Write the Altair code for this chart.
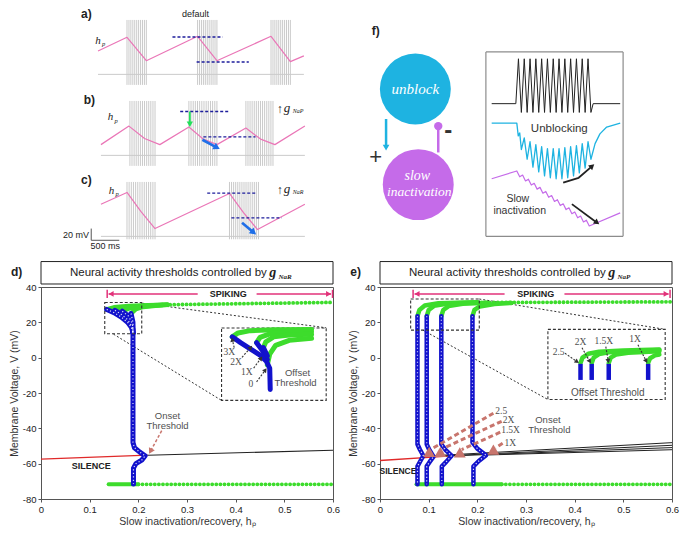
import math
import altair as alt
import pandas as pd

SANS = "Liberation Sans"
SERIF = "Liberation Serif"

PINK = "#ea76b7"
SPIKE = "#cacaca"
DASHBLUE = "#1e1e9c"
ARROWBLUE = "#1f6fe8"
LIME = "#22e05a"
GREEN = "#3ddc2c"
BLUE = "#1212cc"
RED = "#e02a2a"
MAGENTA = "#e2327a"
BROWN = "#c8756d"
CYAN = "#1eb3e1"
PURPLE = "#c56be9"
INK = "#222222"
FRAME = "#555555"
GREY = "#505050"

# ======================= DATA =======================
# ---- traces a-c : time (s), voltage (mV), h_p
V_REST = -60.0
V_PEAK = 33.0
V_TROUGH = -78.0
V_TROUGH_C = -65.0

a_spikes = [0.517, 0.552, 0.586, 0.621, 0.655, 0.690, 0.724, 0.759, 0.793, 0.828, 0.862,
            1.776, 1.811, 1.845, 1.880, 1.914, 1.949, 1.983, 2.018, 2.052, 2.087, 2.121,
            3.086, 3.121, 3.155, 3.190, 3.224, 3.259, 3.293, 3.328, 3.362, 3.397, 3.431]
a_span = [0.0, 3.672]
a_hp_t = [0.0, 0.517, 0.862, 1.776, 2.121, 3.086, 3.431, 3.672]
a_hp = [0.154, 0.196, 0.124, 0.199, 0.124, 0.199, 0.121, 0.139]
a_thr_t0 = [1.328, 1.759]
a_thr_t1 = [2.224, 2.690]
a_thr_hp = [0.197, 0.120]

b_spikes = [0.569, 0.606, 0.644, 0.681, 0.718, 0.756, 0.793, 0.830, 0.868, 0.905, 0.942, 0.980, 1.017,
            1.621, 1.659, 1.698, 1.736, 1.775, 1.813, 1.852, 1.890, 1.929, 1.967, 2.006, 2.044, 2.083, 2.121,
            2.638, 2.675, 2.712, 2.749, 2.787, 2.824, 2.861, 2.898, 2.935, 2.972, 3.010, 3.047, 3.084, 3.121]
b_span = [0.052, 3.690]
b_hp_t = [0.052, 0.552, 0.83, 1.103, 1.621, 1.87, 2.121, 2.638, 2.90, 3.155, 3.690]
b_hp = [0.115, 0.172, 0.134, 0.115, 0.169, 0.133, 0.115, 0.166, 0.132, 0.115, 0.172]
b_thr_t0 = [1.466, 1.879]
b_thr_t1 = [2.345, 2.810]
b_thr_hp = [0.217, 0.139]
b_green_arrow = [(1.638, 0.217), (1.638, 0.178)]
b_blue_arrow = [(1.862, 0.130), (2.121, 0.106)]

c_spikes = [0.517, 0.555, 0.594, 0.632, 0.671, 0.709, 0.748, 0.786, 0.825, 0.863, 0.902, 0.940, 0.979, 1.017,
            2.345, 2.382, 2.419, 2.456, 2.493, 2.530, 2.567, 2.604, 2.640, 2.677, 2.714, 2.751, 2.788, 2.825, 2.862]
c_span = [0.052, 3.690]
c_hp_t = [0.052, 0.517, 0.767, 1.017, 2.345, 2.595, 2.845, 3.690]
c_hp = [0.181, 0.217, 0.158, 0.106, 0.214, 0.155, 0.103, 0.181]
c_thr_t0 = [1.948, 2.379]
c_thr_t1 = [2.828, 3.276]
c_thr_hp = [0.215, 0.139]
c_blue_arrow = [(2.569, 0.124), (2.776, 0.094)]

# ---- f) schematic (diagram units)
f_circ_x = [414, 417]
f_circ_y = [86, 184]
f_inset_x = [487, 629]
f_inset_y = [48, 237]
f_black_x = [493, 518, 520.7, 523.7, 526.7, 529.7, 532.7, 535.7, 538.7, 541.7, 544.7, 547.7, 550.7,
             553.7, 556.7, 559.7, 562.7, 565.7, 568.7, 571.7, 574.7, 577.7, 580.7, 583.7, 586.7,
             589.7, 592.7, 595.7, 598, 626]
f_black_y = [101, 101, 55, 110, 55, 110, 55, 110, 55, 110, 55, 110, 55,
             110, 55, 110, 55, 110, 55, 110, 55, 110, 55, 110, 55,
             110, 55, 110, 101, 101]
f_cyan_x = [493, 519, 520.5, 522, 523.7, 526.7, 529.7, 532.7, 535.7, 538.7, 541.7, 544.7, 547.7,
            550.7, 553.7, 556.7, 559.7, 562.7, 565.7, 568.7, 571.7, 574.7, 577.7, 580.7, 583.7,
            586.7, 589.7, 592.7, 595.7, 600, 605, 612, 626]
f_cyan_y = [121, 121, 134, 131, 148, 136, 158, 140, 166, 143, 171, 145, 175,
            147, 177, 147, 178, 147, 178, 146, 177, 145, 175, 144, 172,
            142, 167, 140, 158, 142, 132, 125, 121]
f_purp_x = [493, 519, 522, 525, 528, 531, 534, 537, 540, 543, 546, 549, 552, 555, 558,
            561, 564, 567, 570, 573, 576, 579, 582, 585, 588, 591, 594, 626]
f_purp_y = [178, 170, 176, 174.2, 180.2, 178.4, 184.4, 182.6, 188.6, 186.8, 192.8, 191, 197, 195.2, 201.2,
            199.4, 205.4, 203.6, 209.6, 207.8, 213.8, 212, 218, 216.2, 222.2, 220.4, 226.4, 213]

# ---- d) g_NaR thresholds  (h_p, mV)
d_red = [(0.0, -57.4), (0.219, -55.2)]
d_black = [(0.219, -55.2), (0.6, -52.4)]
d_blue_main = [(0.189, 16), (0.189, -48), (0.192, -51), (0.203, -53.5), (0.214, -55.5),
               (0.207, -58), (0.195, -60), (0.190, -62.5), (0.190, -71.5)]
d_blue_tips = [
    [(0.135, 27.3), (0.15, 25.5), (0.165, 23), (0.178, 20), (0.186, 17), (0.189, 14)],
    [(0.152, 26.8), (0.165, 24.5), (0.178, 21.5), (0.187, 17.5), (0.189, 14)],
    [(0.167, 26.3), (0.18, 23.5), (0.188, 19), (0.189, 14)],
    [(0.185, 25), (0.189, 20), (0.189, 14)],
]
d_green_tips = [
    [(0.135, 27.3), (0.15, 28.5), (0.18, 29.2), (0.22, 29.7), (0.26, 30)],
    [(0.152, 26.8), (0.165, 28), (0.19, 29), (0.23, 29.7), (0.26, 30)],
    [(0.167, 26.3), (0.18, 27.8), (0.2, 28.8), (0.24, 29.7), (0.26, 30)],
    [(0.185, 25), (0.195, 27.5), (0.21, 28.7), (0.25, 29.8)],
]
d_green_band = [(0.24, 29.9), (0.6, 31.3)]
d_green_low_solid = [(0.139, -71.7), (0.2, -71.7)]
d_green_low_dots = [(0.2, -71.7), (0.6, -71.7)]
d_small_box = [0.131, 0.207, 13.5, 31.2]
d_big_box = [0.371, 0.586, -24.2, 16.8]
d_connect = [[(0.209, 30.8), (0.586, 16.9)], [(0.149, 13.3), (0.371, -24.2)]]
d_in_green = [
    [(0.393, 11.8), (0.405, 14), (0.43, 15.3), (0.48, 15.8), (0.556, 16)],
    [(0.443, 8.5), (0.45, 11.5), (0.47, 13.5), (0.51, 14.5), (0.556, 14.7)],
    [(0.457, 5.7), (0.462, 9), (0.478, 11.8), (0.515, 13), (0.556, 13.2)],
    [(0.465, -4), (0.47, 2), (0.482, 7), (0.51, 9.8), (0.556, 11)],
]
d_in_blue = [
    [(0.393, 11.8), (0.41, 8.5), (0.43, 5), (0.45, 1.5), (0.463, -2), (0.47, -6), (0.471, -18)],
    [(0.443, 8.5), (0.455, 4), (0.465, -1)],
    [(0.457, 5.7), (0.465, 1)],
]
d_in_lab = ["3X", "2X", "1X", "0"]
d_in_lab_x = [0.387, 0.401, 0.423, 0.431]
d_in_lab_y = [3, -2.6, -8, -15]
d_in_arrows = [[(0.397, 5.7), (0.393, 10.2)], [(0.413, 0.2), (0.431, 5.8)],
               [(0.437, -5.9), (0.452, -0.3)], [(0.443, -13.7), (0.461, -7)]]
d_onset_arrow = [(0.248, -41.3), (0.225, -53)]

# ---- e) g_NaP thresholds
e_red = [(0.0, -58.2), (0.147, -55.6)]
e_black = [[(0.09, -55.8), (0.6, -48.1)], [(0.11, -55.9), (0.6, -49.6)],
           [(0.147, -55.6), (0.6, -50.9)], [(0.218, -55.1), (0.6, -52.1)]]
e_blue = [
    [(0.077, 23.5), (0.077, -49), (0.082, -52), (0.089, -55.5), (0.083, -58.5), (0.077, -61.5), (0.077, -71.7)],
    [(0.096, 23.5), (0.096, -49), (0.101, -52), (0.110, -56), (0.102, -59), (0.096, -61.5), (0.096, -71.7)],
    [(0.126, 23.5), (0.126, -49), (0.134, -52), (0.147, -55.5), (0.136, -59), (0.127, -61.5), (0.127, -71.7)],
    [(0.190, 23.5), (0.190, -48), (0.200, -51.5), (0.218, -55.2), (0.203, -58.5), (0.192, -61.5), (0.192, -71.7)],
]
e_green = [
    [(0.077, 23.5), (0.081, 27), (0.092, 29.5), (0.12, 30.8), (0.2, 31.3)],
    [(0.096, 23.5), (0.100, 27), (0.111, 29.3), (0.14, 30.6), (0.2, 31.2)],
    [(0.126, 23.5), (0.130, 27), (0.141, 29.2), (0.17, 30.5), (0.22, 31.1)],
    [(0.190, 23.5), (0.194, 27), (0.205, 29), (0.235, 30.4), (0.27, 31)],
]
e_green_band = [(0.2, 31.2), (0.6, 31.6)]
e_green_low_solid = [(0.075, -71.7), (0.25, -71.7)]
e_green_low_dots = [(0.25, -71.7), (0.6, -71.7)]
e_tri_x = [0.101, 0.124, 0.164, 0.233]
e_tri_y = [-53.3, -53.3, -53.6, -52.1]
e_onset_lines = [[(0.233, -31.5), (0.11, -51)], [(0.25, -36), (0.13, -51.3)],
                 [(0.247, -42.2), (0.168, -52)], [(0.252, -48.5), (0.238, -51)]]
e_onset_lab = ["2.5", "2X", "1.5X", "1X"]
e_onset_lab_x = [0.237, 0.252, 0.249, 0.256]
e_onset_lab_y = [-30, -35.5, -41, -48.5]
e_small_box = [0.063, 0.204, 15.6, 33.2]
e_big_box = [0.345, 0.586, -23.7, 16]
e_connect = [[(0.204, 33.2), (0.586, 16)], [(0.088, 15.6), (0.345, -23.7)]]
e_in_blue_x = [0.412, 0.435, 0.470, 0.551]
e_in_blue_top = -3.5
e_in_blue_bot = -12.6
e_in_green = [
    [(0.412, -3), (0.416, 0), (0.428, 2.2), (0.45, 3.3), (0.5, 4), (0.574, 4.6)],
    [(0.435, -3), (0.439, 0), (0.45, 2), (0.47, 3), (0.52, 3.8), (0.574, 4.3)],
    [(0.470, -3), (0.474, 0), (0.485, 1.8), (0.51, 2.8), (0.574, 3.6)],
    [(0.551, -3), (0.555, -0.3), (0.565, 1.3), (0.574, 1.8)],
]
e_in_lab = ["2.5", "2X", "1.5X", "1X"]
e_in_lab_x = [0.367, 0.412, 0.46, 0.524]
e_in_lab_y = [3.3, 8.6, 9.5, 10.5]
e_in_arrows = [[(0.38, 2.5), (0.405, -2.3)], [(0.415, 5.6), (0.431, -2.1)],
               [(0.464, 6.2), (0.469, -1.9)], [(0.530, 7.3), (0.547, -1.9)]]

# ======================= HELPERS =======================
def sc(dom, rev=False):
    kw = dict(domain=dom, nice=False, zero=False)
    if rev:
        kw["reverse"] = True
    return alt.Scale(**kw)


def frame(xd, yd, rev=False, xa=None, ya=None):
    return {"xd": xd, "yd": yd, "rev": rev, "xa": xa, "ya": ya}


def ex(fr, f="x"):
    return alt.X(f + ":Q", scale=sc(fr["xd"]), axis=fr["xa"])


def ey(fr, f="y"):
    return alt.Y(f + ":Q", scale=sc(fr["yd"], fr["rev"]), axis=fr["ya"])


def lines(fr, series, color, width=1.0, dash=None, cap="butt", opacity=1.0):
    parts = []
    for k, pts in enumerate(series):
        d = pd.DataFrame({"x": [p[0] for p in pts], "y": [p[1] for p in pts]})
        d["i"] = range(len(d))
        d["g"] = k
        parts.append(d)
    df = pd.concat(parts, ignore_index=True)
    props = dict(color=color, strokeWidth=width, strokeCap=cap, strokeJoin="round", opacity=opacity)
    if dash:
        props["strokeDash"] = dash
    return alt.Chart(df).mark_line(**props).encode(x=ex(fr), y=ey(fr), order="i:Q", detail="g:N")


def vsegs(fr, xs, y1, y2, color, width=1.0, dash=None):
    df = pd.DataFrame({"x": list(xs), "y": list(y1), "y2": list(y2)})
    props = dict(color=color, strokeWidth=width)
    if dash:
        props["strokeDash"] = dash
    return alt.Chart(df).mark_rule(**props).encode(x=ex(fr), y=ey(fr), y2="y2:Q")


def hsegs(fr, x1, x2, ys, color, width=1.0, dash=None):
    df = pd.DataFrame({"x": list(x1), "x2": list(x2), "y": list(ys)})
    props = dict(color=color, strokeWidth=width)
    if dash:
        props["strokeDash"] = dash
    return alt.Chart(df).mark_rule(**props).encode(x=ex(fr), x2="x2:Q", y=ey(fr))


def box(fr, b, **props):
    df = pd.DataFrame({"x": [b[0]], "x2": [b[1]], "y": [b[2]], "y2": [b[3]]})
    return alt.Chart(df).mark_rect(**props).encode(x=ex(fr), x2="x2:Q", y=ey(fr), y2="y2:Q")


def label(fr, xs, ys, ts, **props):
    df = pd.DataFrame({"x": list(xs), "y": list(ys), "t": list(ts)})
    base = dict(font=SANS, align="center", baseline="middle", color=INK)
    base.update(props)
    return alt.Chart(df).mark_text(**base).encode(x=ex(fr), y=ey(fr), text="t:N")


def heads(fr, xs, ys, angs, color, size=30):
    df = pd.DataFrame({"x": list(xs), "y": list(ys), "a": list(angs)})
    return alt.Chart(df).mark_point(shape="triangle-up", filled=True, color=color, size=size,
                                    opacity=1, strokeWidth=0).encode(
        x=ex(fr), y=ey(fr), angle=alt.Angle("a:Q", scale=None))


def heading(k, p, q):
    sx = (q[0] - p[0]) * k[0]
    sy = -(q[1] - p[1]) * k[1]
    return (math.degrees(math.atan2(sx, -sy)) + 360.0) % 360.0


def arrows(fr, k, paths, color, width=1.0, dash=None, size=30):
    out = [lines(fr, paths, color, width, dash)]
    out.append(heads(fr, [p[-1][0] for p in paths], [p[-1][1] for p in paths],
                     [heading(k, p[-2], p[-1]) for p in paths], color, size))
    return out


# ======================= PANELS a-c =======================
ROW_W, ROW_H = 271, 78
T_DOM = [-1.017, 3.817]
V_DOM = [-83.3, 50.0]
HP_DOM = [0.04, 0.28]
FV = frame(T_DOM, V_DOM)
FH = frame(T_DOM, HP_DOM)
KH = (ROW_W / (T_DOM[1] - T_DOM[0]), ROW_H / (HP_DOM[1] - HP_DOM[0]))


def trace_layers(spikes, v_lo, span, hp_t, hp_v, t0, t1, thr):
    n = len(spikes)
    return [
        hsegs(FV, [span[0]], [span[1]], [V_REST], SPIKE, 1.0),
        vsegs(FV, spikes, [v_lo] * n, [V_PEAK] * n, SPIKE, 1.0),
        lines(FH, [list(zip(hp_t, hp_v))], PINK, 1.2),
        hsegs(FH, t0, t1, thr, DASHBLUE, 1.3, [3, 2]),
    ]


def hp_label(x, y):
    return [label(FH, [x], [y], ["h"], font=SERIF, fontStyle="italic", fontSize=11),
            label(FH, [x + 0.1], [y - 0.012], ["p"], font=SERIF, fontStyle="italic", fontSize=6.5)]


def g_label(sub):
    return [label(FV, [3.24], [20], ["↑"], fontSize=12, fontWeight="bold"),
            label(FV, [3.37], [21], ["g"], font=SERIF, fontStyle="italic", fontSize=13),
            label(FV, [3.57], [15], [sub], font=SERIF, fontStyle="italic", fontSize=6)]


row_a = alt.layer(
    *trace_layers(a_spikes, V_TROUGH, a_span, a_hp_t, a_hp, a_thr_t0, a_thr_t1, a_thr_hp),
    *hp_label(0.0, 0.186),
    label(FV, [-0.207], [43], ["a)"], fontSize=12, fontWeight="bold"),
    label(FV, [1.74], [44], ["default"], fontSize=9),
).resolve_scale(y="independent").properties(width=ROW_W, height=ROW_H)

row_b = alt.layer(
    *trace_layers(b_spikes, V_TROUGH, b_span, b_hp_t, b_hp, b_thr_t0, b_thr_t1, b_thr_hp),
    *arrows(FH, KH, [b_green_arrow], LIME, 1.8, None, 40),
    *arrows(FH, KH, [b_blue_arrow], ARROWBLUE, 2.6, None, 55),
    *hp_label(0.224, 0.199),
    *g_label("NaP"),
    label(FV, [-0.155], [35], ["b)"], fontSize=12, fontWeight="bold"),
).resolve_scale(y="independent").properties(width=ROW_W, height=ROW_H)

row_c = alt.layer(
    *trace_layers(c_spikes, V_TROUGH_C, c_span, c_hp_t, c_hp, c_thr_t0, c_thr_t1, c_thr_hp),
    *arrows(FH, KH, [c_blue_arrow], ARROWBLUE, 2.6, None, 55),
    *hp_label(0.24, 0.223),
    *g_label("NaR"),
    label(FV, [-0.207], [36.7], ["c)"], fontSize=12, fontWeight="bold"),
    vsegs(FV, [-0.121], [-66.7], [-46.7], "#555555", 1.0),
    hsegs(FV, [-0.121], [0.379], [-66.7], "#555555", 1.0),
    label(FV, [-0.16], [-58], ["20 mV"], align="right", fontSize=9),
    label(FV, [0.13], [-76.5], ["500 ms"], fontSize=9),
).resolve_scale(y="independent").properties(width=ROW_W, height=ROW_H)

abc = alt.vconcat(row_a, row_b, row_c, spacing=3)

# ======================= PANEL f =======================
F_W, F_H = 258, 240
FF = frame([365, 632], [5, 251], rev=True)
KF = (F_W / 267.0, -F_H / 246.0)

circ_df_u = pd.DataFrame({"x": [f_circ_x[0]], "y": [f_circ_y[0]]})
circ_df_s = pd.DataFrame({"x": [f_circ_x[1]], "y": [f_circ_y[1]]})

panel_f = alt.layer(
    label(FF, [373], [27], ["f)"], fontSize=12, fontWeight="bold"),
    alt.Chart(circ_df_u).mark_circle(size=5030, color=CYAN, opacity=1).encode(x=ex(FF), y=ey(FF)),
    alt.Chart(circ_df_s).mark_circle(size=5030, color=PURPLE, opacity=1).encode(x=ex(FF), y=ey(FF)),
    label(FF, [414], [86], ["unblock"], font=SERIF, fontStyle="italic", fontSize=15, color="white"),
    label(FF, [416], [175], ["slow"], font=SERIF, fontStyle="italic", fontSize=14, color="white"),
    label(FF, [418], [192], ["inactivation"], font=SERIF, fontStyle="italic", fontSize=13.5, color="white"),
    *arrows(FF, KF, [[(383.7, 116.7), (383.7, 146)]], CYAN, 2.5, None, 45),
    label(FF, [373], [156], ["+"], fontSize=22, color="#333333"),
    lines(FF, [[(437.7, 124), (437.7, 151)]], PURPLE, 2.5),
    alt.Chart(pd.DataFrame({"x": [437.7], "y": [124]})).mark_circle(size=70, color=PURPLE, opacity=1).encode(
        x=ex(FF), y=ey(FF)),
    label(FF, [448], [129], ["-"], fontSize=24, fontWeight="bold", color="#333333"),
    hsegs(FF, [f_inset_x[0], f_inset_x[0]], [f_inset_x[1], f_inset_x[1]], f_inset_y, "#8c8c8c", 1.2),
    vsegs(FF, f_inset_x, [f_inset_y[0], f_inset_y[0]], [f_inset_y[1], f_inset_y[1]], "#8c8c8c", 1.2),
    lines(FF, [list(zip(f_black_x, f_black_y))], INK, 1.0),
    lines(FF, [list(zip(f_cyan_x, f_cyan_y))], CYAN, 1.3),
    lines(FF, [list(zip(f_purp_x, f_purp_y))], PURPLE, 1.2),
    label(FF, [563], [127], ["Unblocking"], fontSize=11.5, color="#333333"),
    label(FF, [520], [199], ["Slow"], fontSize=10.5, color="#333333"),
    label(FF, [522], [211], ["inactivation"], fontSize=10.5, color="#333333"),
    *arrows(FF, KF, [[(567, 182), (583, 177), (597, 165)]], INK, 1.8, None, 40),
    *arrows(FF, KF, [[(576, 204), (602, 223)]], INK, 1.8, None, 40),
).properties(width=F_W, height=F_H)

top = alt.hconcat(abc, panel_f, spacing=56)

# ======================= PANELS d / e =======================
P_W, P_H = 292, 212
ax_common = dict(grid=False, labelFlush=False, tickSize=3, labelPadding=2, titlePadding=3,
                 labelFontSize=9.5, titleFontSize=10.5, labelColor=INK, titleColor="#333333",
                 domainColor=FRAME, tickColor=FRAME, titleFontWeight="normal", labelFont=SANS,
                 titleFont=SANS, labelExpr="'' + datum.value")
XAX = alt.Axis(title="Slow inactivation/recovery, hₚ", values=[0, 0.1, 0.2, 0.3, 0.4, 0.5, 0.6], **ax_common)
YAX = alt.Axis(title="Membrane Voltage, V (mV)", values=[-80, -60, -40, -20, 0, 20, 40], **ax_common)
FD = frame([0, 0.6], [-80, 40], xa=XAX, ya=YAX)
KD = (P_W / 0.6, P_H / 120.0)


def title_box(letter, sub):
    return [
        box(FD, [0, 0.6, 41.7, 54.4], fill="white", stroke=INK, strokeWidth=1),
        label(FD, [0.464], [48.2], ["Neural activity thresholds controlled by"], align="right", fontSize=11.5),
        label(FD, [0.469], [48.2], ["g"], align="left", font=SERIF, fontStyle="italic", fontWeight="bold",
              fontSize=14),
        label(FD, [0.488], [45.6], [sub], align="left", font=SERIF, fontStyle="italic", fontWeight="bold",
              fontSize=7),
        label(FD, [-0.05], [48.3], [letter], fontSize=12, fontWeight="bold"),
    ]


def spiking(x0, x1, x2, x3, xt):
    return [
        lines(FD, [[(x0, 36.1), (x1, 36.1)], [(x2, 36.1), (x3, 36.1)]], MAGENTA, 1.5),
        heads(FD, [x0 + 0.005, x3 - 0.005], [36.1, 36.1], [270, 90], MAGENTA, 35),
        vsegs(FD, [x0 - 0.003, x3 + 0.003], [33.8, 33.8], [38.4, 38.4], MAGENTA, 1.5),
        label(FD, [xt], [36.1], ["SPIKING"], fontSize=9, fontWeight="bold"),
    ]


def blue_curves(series, width=5):
    return [lines(FD, series, BLUE, width, None, "round"),
            lines(FD, series, "white", 1.2, [1.2, 2.3], "butt", 0.85)]


def greens(series, band, low_solid, low_dots):
    return [lines(FD, series, GREEN, 4.5, None, "round"),
            lines(FD, [band, low_dots], GREEN, 3.8, [0.1, 4], "round"),
            lines(FD, [low_solid], GREEN, 4, None, "round")]


VIEW = alt.ViewBackground(stroke=FRAME, strokeWidth=1)

panel_d = alt.layer(
    *title_box("d)", "NaR"),
    lines(FD, [d_red], RED, 1.3),
    lines(FD, [d_black], INK, 1.1),
    lines(FD, d_connect, "#333333", 1.0, [2, 2]),
    *greens(d_green_tips, d_green_band, d_green_low_solid, d_green_low_dots),
    *blue_curves([d_blue_main] + d_blue_tips),
    box(FD, d_small_box, fill="white", fillOpacity=0, stroke="#333333", strokeDash=[3, 2], strokeWidth=1.1),
    box(FD, d_big_box, fill="white", stroke="#333333", strokeDash=[3, 2], strokeWidth=1.1),
    lines(FD, d_in_green, GREEN, 5, None, "round"),
    lines(FD, d_in_blue, BLUE, 5, None, "round"),
    label(FD, d_in_lab_x, d_in_lab_y, d_in_lab, font=SERIF, fontSize=9.5, color=GREY),
    *arrows(FD, KD, d_in_arrows, "#333333", 1.1, [2, 1.5], 25),
    label(FD, [0.527, 0.523], [-8.8, -14.4], ["Offset", "Threshold"], fontSize=9.5, color=GREY),
    label(FD, [0.26, 0.26], [-32.8, -38.4], ["Onset", "Threshold"], fontSize=9.5, color=GREY),
    *arrows(FD, KD, [d_onset_arrow], BROWN, 1.5, [3, 2], 45),
    *spiking(0.139, 0.322, 0.443, 0.596, 0.385),
    label(FD, [0.103], [-61.2], ["SILENCE"], fontSize=9, fontWeight="bold"),
).properties(width=P_W, height=P_H, view=VIEW)

panel_e = alt.layer(
    *title_box("e)", "NaP"),
    lines(FD, [e_red], RED, 1.3),
    lines(FD, e_black, INK, 1.0),
    lines(FD, e_connect, "#333333", 1.0, [2, 2]),
    *greens(e_green, e_green_band, e_green_low_solid, e_green_low_dots),
    *blue_curves(e_blue, 4.5),
    box(FD, e_small_box, fill="white", fillOpacity=0, stroke="#333333", strokeDash=[3, 2], strokeWidth=1.1),
    lines(FD, e_onset_lines, BROWN, 3, [5, 3]),
    heads(FD, e_tri_x, e_tri_y, [0, 0, 0, 0], BROWN, 140),
    label(FD, e_onset_lab_x, e_onset_lab_y, e_onset_lab, align="left", font=SERIF, fontSize=9.5, color=GREY),
    label(FD, [0.345, 0.348], [-35.5, -41], ["Onset", "Threshold"], fontSize=9.5, color=GREY),
    box(FD, e_big_box, fill="white", stroke="#333333", strokeDash=[3, 2], strokeWidth=1.1),
    lines(FD, e_in_green, GREEN, 4.5, None, "round"),
    vsegs(FD, e_in_blue_x, [e_in_blue_top] * 4, [e_in_blue_bot] * 4, BLUE, 4.5),
    label(FD, e_in_lab_x, e_in_lab_y, e_in_lab, font=SERIF, fontSize=9.5, color=GREY),
    *arrows(FD, KD, e_in_arrows, "#333333", 1.1, [2, 1.5], 25),
    label(FD, [0.468], [-19.8], ["Offset Threshold"], fontSize=10, color=GREY),
    *spiking(0.071, 0.256, 0.379, 0.593, 0.32),
    label(FD, [0.037], [-64.2], ["SILENCE"], fontSize=8.5, fontWeight="bold"),
).properties(width=P_W, height=P_H, view=VIEW)

bottom = alt.hconcat(panel_d, panel_e, spacing=6)

chart = alt.vconcat(top, bottom, spacing=8).properties(
    padding=0, background="white"
).configure(font=SANS).configure_view(stroke=None)

chart.save("out.html", embed_options={"renderer": "svg", "actions": False})
